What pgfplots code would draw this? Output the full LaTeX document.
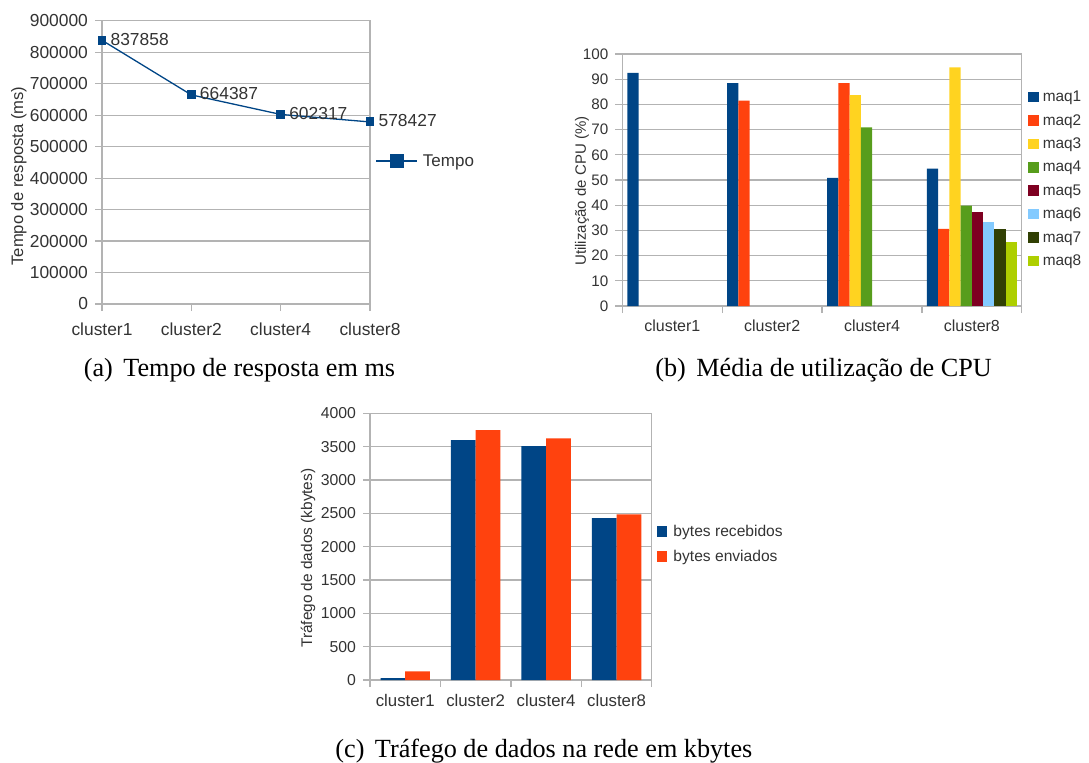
\documentclass[border=0pt]{standalone}
\usepackage{fontspec}
\setmainfont{Liberation Serif}
\newfontfamily\lsans{Liberation Sans}
\usepackage{pgfplots}
\pgfplotsset{compat=1.18}
\definecolor{c1}{HTML}{004586}
\definecolor{c2}{HTML}{FF420E}
\definecolor{c3}{HTML}{FFD320}
\definecolor{c4}{HTML}{579D1C}
\definecolor{c5}{HTML}{7E0021}
\definecolor{c6}{HTML}{83CAFF}
\definecolor{c7}{HTML}{314004}
\definecolor{c8}{HTML}{AECF00}
\definecolor{txt}{HTML}{333333}
\definecolor{gridc}{HTML}{B3B3B3}
\newcommand\fs[1]{\lsans\fontsize{#1pt}{#1pt}\selectfont}
\pgfplotsset{
  lo/.style={
    scale only axis,
    axis line style={gridc, line width=0.6pt},
    tick style={gridc, line width=0.6pt},
    major tick length=3.5pt, minor tick length=3.5pt,
    tick align=outside,
    xtick pos=lower, ytick pos=left,
    ymajorgrids, grid style={gridc, line width=0.6pt},
    ticklabel style={text=txt},
    /pgf/number format/assume math mode=true,
    /pgf/number format/1000 sep={},
    scaled y ticks=false,
    legend style={draw=none, fill=none, inner sep=0pt, outer sep=0pt, text=txt},
    legend cell align=left,
  },
  barleg/.style={legend image code/.code={\fill[##1] (0pt,#1) rectangle (5.3pt,5.3pt+#1);}},
}
\begin{document}
\begin{tikzpicture}
\useasboundingbox (0,0) rectangle (544.5pt,-381pt);
% (a)
\begin{axis}[lo, at={(51pt,-152pt)}, anchor=south west, width=134pt, height=141.65pt,
  xmin=0, xmax=3, ymin=0, ymax=900000, clip=false,
  xtick={0,1,2,3}, xticklabels={cluster1,cluster2,cluster4,cluster8},
  ytick={0,100000,200000,300000,400000,500000,600000,700000,800000,900000},
  yticklabels={0,100000,200000,300000,400000,500000,600000,700000,800000,900000},
  ticklabel style={font=\fs{8.7}},
  xticklabel style={yshift=-2.4pt},
  ylabel={Tempo de resposta (ms)},
  ylabel style={at={(axis description cs:-0.31,0.452)}, anchor=center, font=\fs{8.3}, text=txt},
  legend style={at={(1.021,0.502)}, anchor=west, font=\fs{8.5},
    nodes={inner sep=0pt},
    /tikz/every odd column/.append style={column sep=2.5pt}},
  legend image code/.code={\draw[mark repeat=2,mark phase=2,#1,mark size=3.15pt] plot coordinates {(0pt,0.4pt) (10.25pt,0.4pt) (20.5pt,0.4pt)};},
]
\addplot[c1, line width=0.65pt, mark=square*, mark size=1.9pt,
  nodes near coords, point meta=explicit symbolic,
  every node near coord/.style={anchor=west, inner sep=0pt, xshift=4pt, yshift=0.5pt, font=\fs{8.7}, text=txt}]
  table[meta=lab] {
x y lab
0 837858 837858
1 664387 664387
2 602317 602317
3 578427 578427
};
\legend{Tempo}
\end{axis}
% (b)
\begin{axis}[lo, at={(311.2pt,-153pt)}, anchor=south west, width=199.7pt, height=126pt,
  ybar=0pt, bar width=5.625pt,
  xmin=-0.5, xmax=3.5, ymin=0, ymax=100, ytick={0,10,20,30,40,50,60,70,80,90,100},
  xtick={0,1,2,3}, xticklabels={cluster1,cluster2,cluster4,cluster8},
  minor xtick={-0.5,0.5,1.5,2.5,3.5}, major x tick style={draw=none},
  yticklabel style={font=\fs{7.6}},
  xticklabel style={font=\fs{8}},
  ylabel={Utilização de CPU (\%)},
  ylabel style={at={(axis description cs:-0.101,0.456)}, anchor=center, font=\fs{7.5}, text=txt},
  legend style={at={(1.016,0.855)}, anchor=north west, font=\fs{7.7}, row sep=4.5pt,
    nodes={inner sep=0pt, text height=5.6pt, text depth=1.6pt},
    /tikz/every odd column/.append style={column sep=2pt}},
  barleg=-2.3pt,
]
\addplot[fill=c1, draw=none] coordinates {(0,92.5) (1,88.4) (2,50.8) (3,54.5)};
\addplot[fill=c2, draw=none] coordinates {(1,81.5) (2,88.4) (3,30.6)};
\addplot[fill=c3, draw=none] coordinates {(2,83.7) (3,94.7)};
\addplot[fill=c4, draw=none] coordinates {(2,70.9) (3,39.8)};
\addplot[fill=c5, draw=none] coordinates {(3,37.2)};
\addplot[fill=c6, draw=none] coordinates {(3,33.2)};
\addplot[fill=c7, draw=none] coordinates {(3,30.7)};
\addplot[fill=c8, draw=none] coordinates {(3,25.4)};
\legend{maq1,maq2,maq3,maq4,maq5,maq6,maq7,maq8}
\end{axis}
% (c)
\begin{axis}[lo, at={(185pt,-340pt)}, anchor=south west, width=140.9pt, height=133.3pt,
  ybar=0pt, bar width=12.35pt,
  xmin=-0.5, xmax=3.5, ymin=0, ymax=4000, ytick={0,500,1000,1500,2000,2500,3000,3500,4000},
  xtick={0,1,2,3}, xticklabels={cluster1,cluster2,cluster4,cluster8},
  minor xtick={-0.5,0.5,1.5,2.5,3.5}, major x tick style={draw=none},
  yticklabel style={font=\fs{7.9}},
  xticklabel style={font=\fs{8.4}},
  ylabel={Tráfego de dados (kbytes)},
  ylabel style={at={(axis description cs:-0.220,0.457)}, anchor=center, font=\fs{7.7}, text=txt},
  legend style={at={(1.018,0.505)}, anchor=west, font=\fs{7.8}, row sep=5pt,
    nodes={inner sep=0pt, text height=5.8pt, text depth=1.7pt},
    /tikz/every odd column/.append style={column sep=3pt}},
  barleg=-2.1pt,
]
\addplot[fill=c1, draw=none] coordinates {(0,30) (1,3600) (2,3510) (3,2430)};
\addplot[fill=c2, draw=none] coordinates {(0,130) (1,3750) (2,3625) (3,2485)};
\legend{bytes recebidos,bytes enviados}
\end{axis}
\node[anchor=base west, inner sep=0pt, font=\fontsize{13.1}{13.1}\selectfont] at (41.7pt,-188pt) {(a)\hspace{0.4em}Tempo de resposta em ms};
\node[anchor=base west, inner sep=0pt, font=\fontsize{13.1}{13.1}\selectfont] at (327.5pt,-188pt) {(b)\hspace{0.4em}Média de utilização de CPU};
\node[anchor=base west, inner sep=0pt, font=\fontsize{13.1}{13.1}\selectfont] at (167.5pt,-378.5pt) {(c)\hspace{0.4em}Tráfego de dados na rede em kbytes};
\end{tikzpicture}
\end{document}
